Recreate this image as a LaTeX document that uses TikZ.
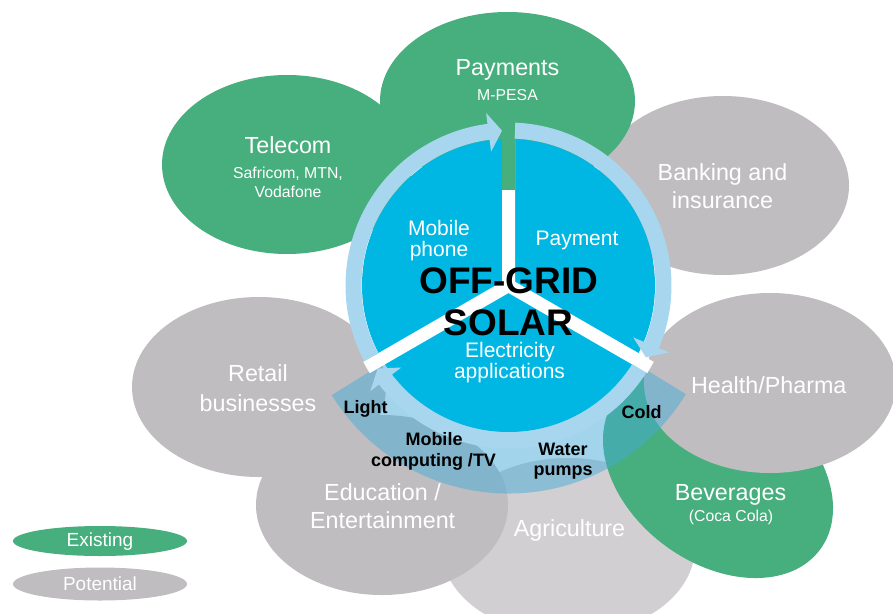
\documentclass[tikz,border=0pt]{standalone}
\usepackage{fontspec}
\setmainfont{Liberation Sans}
\definecolor{green1}{RGB}{71,174,125}
\definecolor{gray1}{RGB}{191,189,191}
\definecolor{gray2}{RGB}{209,207,209}
\definecolor{cblue}{RGB}{0,183,228}
\definecolor{ringblue}{RGB}{168,214,238}
\definecolor{bandblue}{RGB}{70,172,215}
\newcommand\ringarrow[2]{%
  \fill[ringblue] (#1:163) arc[start angle=#1, end angle={#2+5}, radius=163]
    -- ({#2+5}:174) -- (#2:155) -- ({#2+5}:135) -- ({#2+5}:147)
    arc[start angle={#2+5}, end angle=#1, radius=147] -- cycle;}
\begin{document}
\begin{tikzpicture}[x=1pt,y=-1pt,
  lab/.style={text=white, font=\fontsize{23.3}{28}\selectfont, anchor=base, inner sep=0pt},
  sub/.style={text=white, font=\fontsize{15.8}{19}\selectfont, anchor=base, inner sep=0pt},
  inn/.style={text=white, font=\fontsize{21}{25}\selectfont, anchor=base, inner sep=0pt},
  big/.style={text=black, font=\bfseries\fontsize{37}{40}\selectfont, anchor=base, inner sep=0pt},
  app/.style={text=black, font=\bfseries\fontsize{18}{21}\selectfont, anchor=base, inner sep=0pt},
  leg/.style={text=white, font=\fontsize{19}{22}\selectfont, anchor=base, inner sep=0pt}]
\clip (0,0) rectangle (893,613);
% ellipses
\fill[gray1] (723,185.5) ellipse [x radius=126, y radius=89.5];
\fill[green1] (507.5,101) ellipse [x radius=127.5, y radius=89];
\fill[green1] (287,164.5) ellipse [x radius=125, y radius=89.5];
\fill[gray1] (259,387) ellipse [x radius=127, y radius=90];
\fill[gray2] (568,547) ellipse [x radius=127, y radius=89];
\fill[gray1] (382,505) ellipse [x radius=126, y radius=90];
\fill[green1, rotate around={-36.5:(718,474)}] (718,474) ellipse [x radius=127, y radius=89];
\fill[gray1] (770,383) ellipse [x radius=126, y radius=90];
% legend
\fill[green1] (100,541) ellipse [x radius=87, y radius=15];
\fill[gray1] (100,584) ellipse [x radius=87, y radius=16.5];
% centre
\begin{scope}[shift={(508.5,285.5)}, y=1pt]
  \fill[bandblue, fill opacity=0.5] (211.8:208) arc[start angle=211.8, end angle=328.5, radius=208]
     -- (328.5:140) arc[start angle=328.5, end angle=211.8, radius=140] -- cycle;
  \fill[cblue] (0,0) circle[radius=146.5];
  \draw[white, line width=13pt] (90:164) -- (0,0) -- (210:164);
  \draw[white, line width=13pt] (0,0) -- (330:164);
  \begin{scope}
    \clip (-6.5,0) rectangle (6.5,170);
    \fill[green1] (-1,184.5) ellipse [x radius=127.5, y radius=89];
  \end{scope}
  \ringarrow{207.6}{92.4}
  \ringarrow{87.6}{-27.6}
  \ringarrow{-32.4}{-147.6}
\end{scope}
% texts
\node[lab] (pay) at (507.5,75) {Payments};
\node[sub] (mpesa) at (507.5,100) {M-PESA};
\node[lab] (tel) at (288,153.3) {Telecom};
\node[sub] (tel2) at (288,178.3) {Safricom, MTN,};
\node[sub] (tel3) at (288,197.3) {Vodafone};
\node[lab] (bank1) at (722.5,180) {Banking and};
\node[lab] (bank2) at (722.5,208.3) {insurance};
\node[lab] (health) at (768.7,393.3) {Health/Pharma};
\node[lab] (bev) at (730.5,500) {Beverages};
\node[sub] (bev2) at (731,521.7) {(Coca Cola)};
\node[lab] (agri) at (569.5,536) {Agriculture};
\node[lab] (ret1) at (258,381.7) {Retail};
\node[lab] (ret2) at (258,411.7) {businesses};
\node[lab] (edu1) at (382.5,500) {Education /};
\node[lab] (edu2) at (382.7,528.3) {Entertainment};
\node[inn] (mob1) at (439,235) {Mobile};
\node[inn] (mob2) at (439,256.7) {phone};
\node[inn] (paym) at (577,245.7) {Payment};
\node[big] (og) at (509,293.3) {OFF-GRID};
\node[big] (sol) at (508.5,335) {SOLAR};
\node[inn] (el1) at (510,357.7) {Electricity};
\node[inn] (el2) at (509.5,378.3) {applications};
\node[app] (light) at (365.5,413.3) {Light};
\node[app] (mc1) at (434,445) {Mobile};
\node[app] (mc2) at (433.5,466.7) {computing /TV};
\node[app] (wat1) at (563,455) {Water};
\node[app] (wat2) at (563,475) {pumps};
\node[app] (cold) at (641.5,418.3) {Cold};
\node[leg] (ex) at (100,546) {Existing};
\node[leg] (po) at (100,590) {Potential};
\end{tikzpicture}
\end{document}
